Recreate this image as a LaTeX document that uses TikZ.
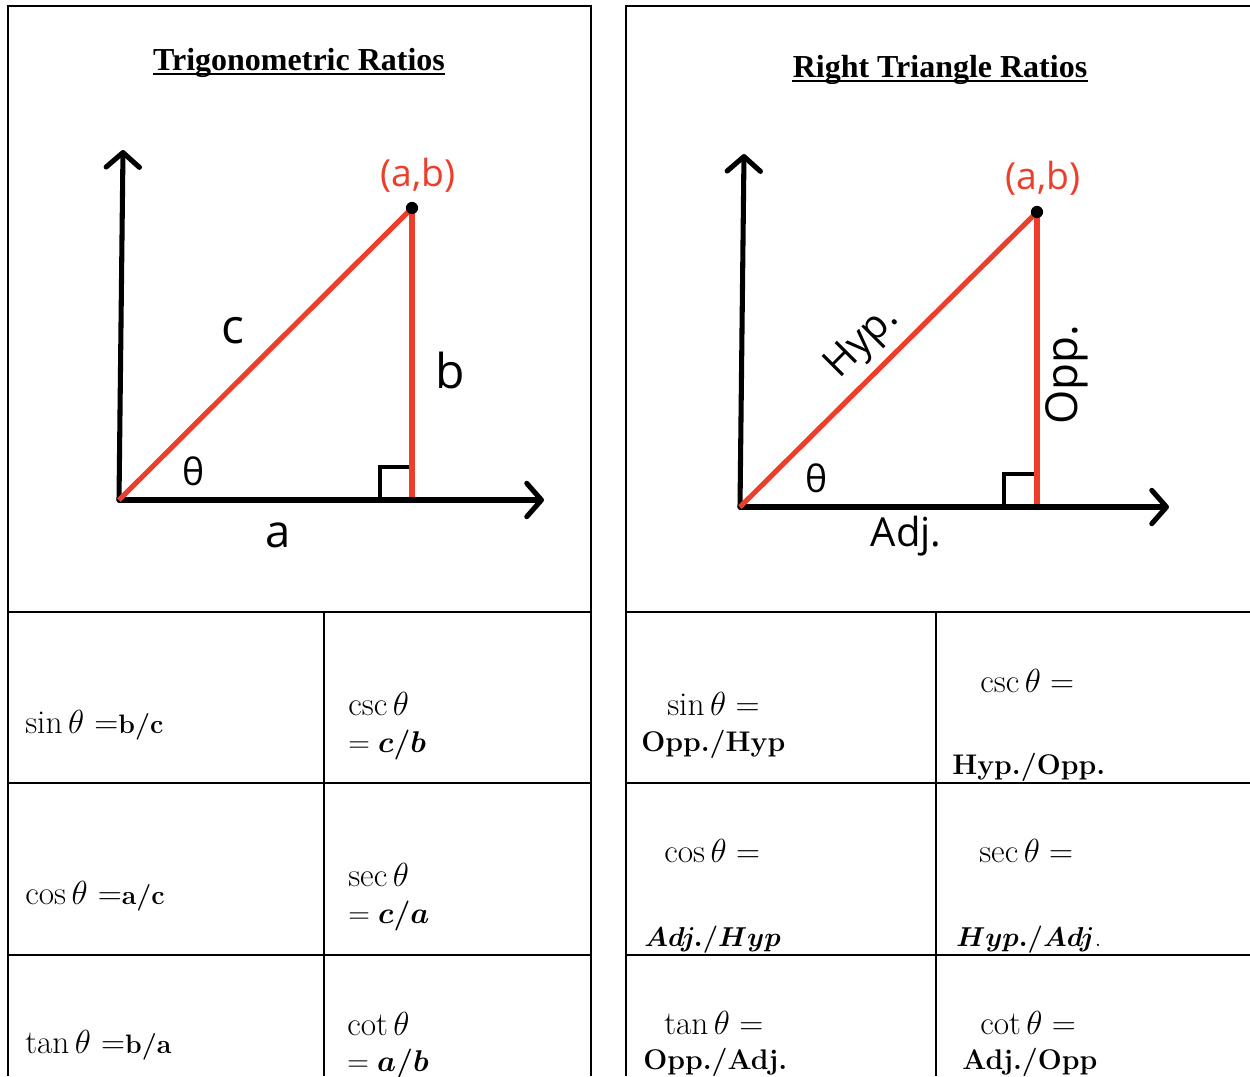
\RequirePackage{fix-cm}
\documentclass[tikz,border=0pt]{standalone}
\usepackage{amsmath,amssymb}
\usepackage{fontspec}
\newfontfamily\titlefont{Liberation Serif}
\newfontfamily\labelfont{Open Sans}
\usetikzlibrary{arrows.meta}
\definecolor{trired}{RGB}{236,62,42}
\newcommand\bsm[1]{{\fontsize{20}{24}\selectfont\textbf{#1}}}

\begin{document}
\begin{tikzpicture}[x=0.75pt, y=-0.75pt,
	grid/.style={line width=1.5pt},
	axis/.style={line width=3.8pt, line cap=round, line join=round, -{Straight Barb[length=11pt, width=25pt, round]}},
	side/.style={line width=3.8pt, trired},
	corner/.style={line width=2.3pt},
	title/.style={inner sep=0pt, anchor=base, font=\titlefont\bfseries\fontsize{24}{28}\selectfont},
	lbl/.style={inner sep=0pt, font=\labelfont\fontsize{30}{34}\selectfont},
	ptlabel/.style={lbl, trired, font=\labelfont\fontsize{28}{32}\selectfont},
	cell/.style={inner sep=0pt, anchor=base west, font=\fontsize{25}{29}\selectfont},
	valcell/.style={cell, font=\fontsize{22.5}{26}\selectfont},
	boldcell/.style={cell, font=\bfseries\fontsize{21.3}{25}\selectfont},
	mathcell/.style={cell, font=\fontsize{20.5}{24}\selectfont}]
	\clip (0,0) rectangle (1250,1076);

	% frames
	\draw[grid] (8,1076) -- (8,6) -- (591,6) -- (591,1076);
	\draw[grid] (626,1076) -- (626,6) -- (1250,6);
	\foreach \yy in {612,783,955} {
		\draw[grid] (8,\yy) -- (591,\yy);
		\draw[grid] (626,\yy) -- (1250,\yy);
	}
	\draw[grid] (324,612) -- (324,1076);
	\draw[grid] (936,612) -- (936,1076);

	\node[title] (ttl1) at (299,70) {Trigonometric Ratios};
	\node[title] (ttl2) at (940,77) {Right Triangle Ratios};
	\draw[line width=1.3pt] ([yshift=-3pt]ttl1.base west) -- ([yshift=-3pt]ttl1.base east);
	\draw[line width=1.3pt] ([yshift=-3pt]ttl2.base west) -- ([yshift=-3pt]ttl2.base east);

	% left triangle
	\coordinate (O1) at (119,500);
	\coordinate (Y1) at (123,150);
	\coordinate (X1) at (544,500);
	\coordinate (P1) at (412,208);
	\coordinate (F1) at (412,497);
	\draw[axis] (O1) -- (Y1);
	\draw[axis] (O1) -- (X1);
	\draw[corner] (380,499) |- (412,467);
	\draw[side] (O1) -- (P1);
	\draw[side] (P1) -- (F1);
	\fill (P1) circle[radius=4.6pt];
	\node[ptlabel] (ab1) at (418,175) {(a,b)};
	\node[lbl, font=\labelfont\fontsize{36}{40}\selectfont] (c1) at (233,331) {c};
	\node[lbl, font=\labelfont\fontsize{36}{40}\selectfont] (b1) at (450,370) {b};
	\node[lbl, font=\labelfont\fontsize{28}{32}\selectfont] (th1) at (194,471) {θ};
	\node[lbl, font=\labelfont\fontsize{34}{38}\selectfont] (a1) at (278,535) {a};

	% right triangle
	\coordinate (O2) at (740,507);
	\coordinate (Y2) at (744,154);
	\coordinate (X2) at (1169,507);
	\coordinate (P2) at (1037,212);
	\coordinate (F2) at (1037,504);
	\draw[axis] (O2) -- (Y2);
	\draw[axis] (O2) -- (X2);
	\draw[corner] (1004,506) |- (1037,474);
	\draw[side] (O2) -- (P2);
	\draw[side] (P2) -- (F2);
	\fill (P2) circle[radius=4.6pt];
	\node[ptlabel] (ab2) at (1043,178) {(a,b)};
	\node[lbl, rotate=45] (hyp) at (863,343) {Hyp.};
	\node[lbl, rotate=90, font=\labelfont\fontsize{33}{37}\selectfont] (opp) at (1067,375) {Opp.};
	\node[lbl, font=\labelfont\fontsize{28}{32}\selectfont] (th2) at (817,478) {θ};
	\node[lbl] (adj) at (906,536) {Adj.};

	% left table
	\node[cell] (sinL) at (25,733) {$\sin\theta$ =\bsm{b/c}};
	\node[cell] (cscL) at (348,715) {$\csc\theta$};
	\node[valcell] (cscLv) at (348,752) {$=\boldsymbol{c/b}$};
	\node[cell] (cosL) at (25,904) {$\cos\theta$ =\bsm{a/c}};
	\node[cell] (secL) at (348,886) {$\sec\theta$};
	\node[valcell] (secLv) at (348,923) {$=\boldsymbol{c/a}$};
	\node[cell] (tanL) at (25,1053) {$\tan\theta$ =\bsm{b/a}};
	\node[cell] (cotL) at (347,1035) {$\cot\theta$};
	\node[valcell] (cotLv) at (347,1071) {$=\boldsymbol{a/b}$};

	% right table
	\node[cell] (sinR) at (667,715) {$\sin\theta =$};
	\node[boldcell] (sinRv) at (641,751) {Opp./Hyp};
	\node[cell] (cscR) at (980,692) {$\csc\theta =$};
	\node[boldcell] (cscRv) at (952,774) {Hyp./Opp.};
	\node[cell] (cosR) at (664,862) {$\cos\theta =$};
	\node[mathcell] (cosRv) at (644,946) {$\boldsymbol{Adj./Hyp}$};
	\node[cell] (secR) at (979,862) {$\sec\theta =$};
	\node[mathcell] (secRv) at (956,946) {$\boldsymbol{Hyp./Adj}$.};
	\node[cell] (tanR) at (664,1034) {$\tan\theta =$};
	\node[boldcell] (tanRv) at (643,1069) {Opp./Adj.};
	\node[cell] (cotR) at (980,1034) {$\cot\theta =$};
	\node[boldcell] (cotRv) at (962,1069) {Adj./Opp};
\end{tikzpicture}
\end{document}
